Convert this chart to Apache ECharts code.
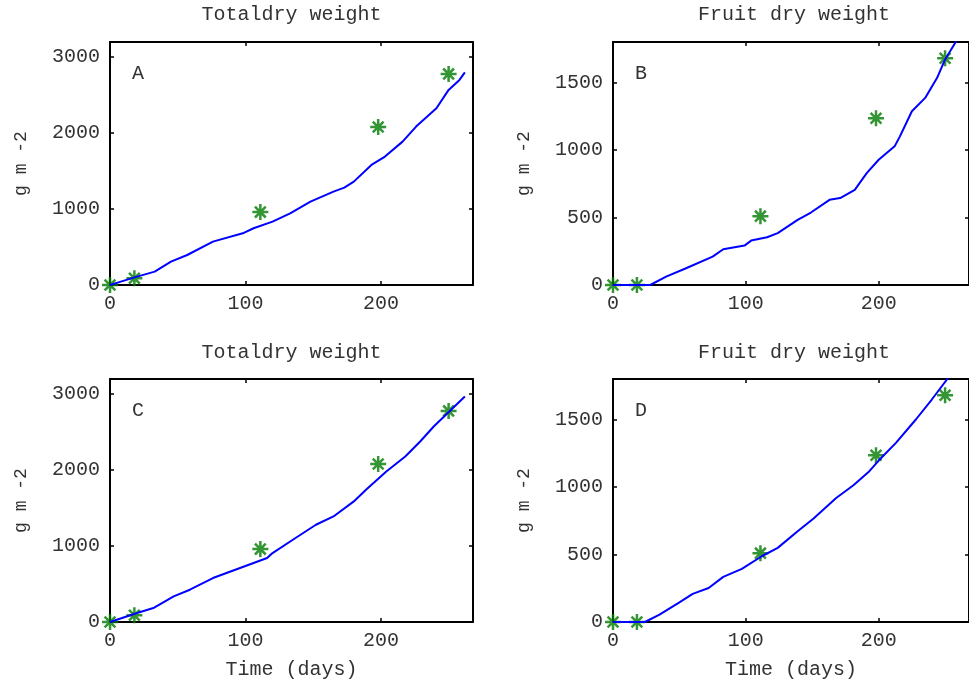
<!DOCTYPE html>
<html>
<head>
<meta charset="utf-8">
<script src="https://cdn.jsdelivr.net/npm/echarts@6/dist/echarts.min.js"></script>
<style>
  html, body { margin: 0; padding: 0; background: #fff; }
  #chart { width: 969px; height: 684px; }
</style>
</head>
<body>
<div id="chart"></div>
<script>
// observed samples (stars)
const obsDays = [0, 18, 111, 198, 250];
const obsTotal = [0, 90, 960, 2080, 2780];
const obsFruit = [0, 0, 510, 1235, 1680];

// simulated curves
const simDaysA = [0, 8, 20, 33, 45, 57, 76, 98, 106, 120, 133, 148, 165, 173, 180, 193, 203, 216, 226, 241, 250, 258, 262];
const simTotalA = [0, 45, 110, 176, 307, 395, 571, 681, 747, 834, 944, 1098, 1230, 1282, 1361, 1581, 1691, 1888, 2086, 2328, 2569, 2701, 2800];

const simDaysB = [0, 18, 28, 40, 55, 75, 83, 99, 104, 116, 124, 139, 149, 163, 171, 182, 191, 200, 212, 216, 225, 235, 244, 250, 258, 262];
const simFruitB = [0, 0, 0, 62, 124, 210, 265, 292, 329, 354, 384, 483, 537, 631, 644, 705, 829, 928, 1027, 1101, 1287, 1386, 1535, 1671, 1800, 1870];

const simDaysC = [0, 20, 32, 47, 59, 76, 98, 116, 120, 135, 152, 165, 180, 189, 204, 218, 229, 239, 248, 262];
const simTotalC = [0, 118, 184, 338, 425, 579, 724, 842, 908, 1083, 1281, 1390, 1588, 1741, 1982, 2180, 2377, 2575, 2728, 2969];

const simDaysD = [0, 18, 24, 35, 50, 60, 72, 83, 97, 112, 124, 139, 151, 168, 181, 193, 200, 213, 228, 240, 252, 262];
const simFruitD = [0, 0, 0, 54, 146, 208, 252, 334, 393, 487, 549, 672, 766, 919, 1013, 1117, 1196, 1327, 1500, 1648, 1804, 1940];

const panelTitles = ['Totaldry weight', 'Fruit dry weight', 'Totaldry weight', 'Fruit dry weight'];
const panelLetters = ['A', 'B', 'C', 'D'];
const yMax = [3200, 1800, 3200, 1800];
const yStep = [1000, 500, 1000, 500];
const xMax = 268;

const FONT = 'Liberation Mono';
const INK = '#333';

const grids = [
  { left: 110, top: 42, width: 363, height: 243 },
  { left: 613, top: 42, width: 362, height: 243 },
  { left: 110, top: 379, width: 363, height: 243 },
  { left: 613, top: 379, width: 362, height: 243 }
];

const lineAxis = { show: true, onZero: false, lineStyle: { color: '#000', width: 2 } };
const tickIn = { show: true, inside: true, length: 4, lineStyle: { color: '#000', width: 1.5 } };
const labelStyle = { color: INK, fontFamily: FONT, fontSize: 20 };

const xAxes = [];
const yAxes = [];
const series = [];
const titles = [];

grids.forEach((g, i) => {
  const bottomRow = i >= 2;
  xAxes.push({
    gridIndex: i, type: 'value', min: 0, max: xMax, interval: 100, position: 'bottom',
    axisLine: lineAxis, axisTick: tickIn, splitLine: { show: false },
    axisLabel: Object.assign({ margin: 9, showMaxLabel: false,
      formatter: v => (v % 100 === 0 ? String(v) : '') }, labelStyle),
    name: bottomRow ? 'Time (days)' : '', nameLocation: 'middle', nameGap: 38,
    nameTextStyle: labelStyle
  });
  xAxes.push({
    gridIndex: i, type: 'value', min: 0, max: xMax, interval: 100, position: 'top',
    axisLine: lineAxis, axisTick: tickIn, splitLine: { show: false }, axisLabel: { show: false }
  });
  yAxes.push({
    gridIndex: i, type: 'value', min: 0, max: yMax[i], interval: yStep[i], position: 'left',
    axisLine: lineAxis, axisTick: tickIn, splitLine: { show: false },
    axisLabel: Object.assign({ margin: 10, showMaxLabel: false,
      formatter: v => (v % yStep[i] === 0 ? String(v) : '') }, labelStyle),
    name: 'g m -2', nameLocation: 'middle', nameRotate: 90, nameGap: 80,
    nameTextStyle: { color: INK, fontFamily: FONT, fontSize: 18 }
  });
  yAxes.push({
    gridIndex: i, type: 'value', min: 0, max: yMax[i], interval: yStep[i], position: 'right',
    axisLine: lineAxis, axisTick: tickIn, splitLine: { show: false }, axisLabel: { show: false }
  });

  titles.push({
    text: panelTitles[i], left: g.left + g.width / 2, top: bottomRow ? 343 : 5, textAlign: 'center',
    textStyle: { color: INK, fontFamily: FONT, fontSize: 20, fontWeight: 'normal' }, padding: 0
  });
  titles.push({
    text: panelLetters[i], left: g.left + 22, top: g.top + 22, padding: 0,
    textStyle: { color: INK, fontFamily: FONT, fontSize: 20, fontWeight: 'normal' }
  });
});

const sims = [
  [simDaysA, simTotalA], [simDaysB, simFruitB], [simDaysC, simTotalC], [simDaysD, simFruitD]
];
const obs = [obsTotal, obsFruit, obsTotal, obsFruit];

const star = 'path://M0,8L16,8M8,0L8,16M2.6,2.6L13.4,13.4M13.4,2.6L2.6,13.4';

sims.forEach(([days, vals], i) => {
  series.push({
    type: 'line', xAxisIndex: 2 * i, yAxisIndex: 2 * i,
    data: days.map((d, k) => [d, vals[k]]),
    showSymbol: false, clip: true, animation: false,
    lineStyle: { color: '#0000ff', width: 2 }
  });
  series.push({
    type: 'scatter', xAxisIndex: 2 * i, yAxisIndex: 2 * i,
    data: obsDays.map((d, k) => [d, obs[i][k]]),
    symbol: star, symbolSize: 16, animation: false,
    itemStyle: { color: 'rgba(0,0,0,0)', borderColor: '#007a00', borderWidth: 2.5 }
  });
});

const chart = echarts.init(document.getElementById('chart'));
chart.setOption({
  backgroundColor: '#fff',
  animation: false,
  title: titles,
  grid: grids,
  xAxis: xAxes,
  yAxis: yAxes,
  series: series
});
</script>
</body>
</html>
